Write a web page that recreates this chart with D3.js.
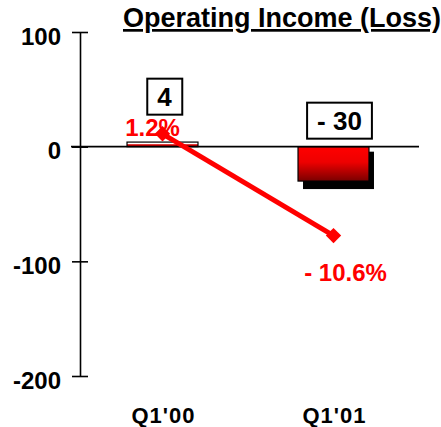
<!DOCTYPE html>
<html><head><meta charset="utf-8">
<script src="https://cdn.jsdelivr.net/npm/d3@7"></script>
<style>
html,body{margin:0;padding:0;background:#fff;}
svg{display:block;font-family:"Liberation Sans",Arial,sans-serif;font-weight:bold;}
</style></head>
<body>
<svg id="c" width="441" height="427"></svg>
<script>
const title = "Operating Income (Loss)";
const categories = ["Q1'00", "Q1'01"];
const income = [4, -30];
const incomeLabels = ["4", "- 30"];
const margin = [1.2, -10.6];
const marginLabels = ["1.2%", "- 10.6%"];
const yTicks = [100, 0, -100, -200];
const yTickLabels = ["100", "0", "-100", "-200"];

const svg = d3.select("#c");
const axisX = 80;

const x = d3.scaleBand().domain(categories).range([77, 419]).paddingInner(0.585).paddingOuter(0.2925);
const y = d3.scaleLinear().domain([-200, 100]).range([376, 32]);
const y2 = d3.scaleLinear().domain([-27, 13]).range([377, 32]);

// gradients
const defs = svg.append("defs");
const gNeg = defs.append("linearGradient").attr("id", "gNeg").attr("x1", 0).attr("y1", 0).attr("x2", 0).attr("y2", 1);
gNeg.append("stop").attr("offset", "0%").attr("stop-color", "#ff0000");
gNeg.append("stop").attr("offset", "45%").attr("stop-color", "#ee0000");
gNeg.append("stop").attr("offset", "100%").attr("stop-color", "#7a0000");
const gPos = defs.append("linearGradient").attr("id", "gPos").attr("x1", 0).attr("y1", 0).attr("x2", 0).attr("y2", 1);
gPos.append("stop").attr("offset", "0%").attr("stop-color", "#ffffff");
gPos.append("stop").attr("offset", "45%").attr("stop-color", "#ffffff");
gPos.append("stop").attr("offset", "55%").attr("stop-color", "#dd0000");
gPos.append("stop").attr("offset", "100%").attr("stop-color", "#cc0000");

// title
svg.append("text").attr("x", 123).attr("y", 27).attr("font-size", 27)
  .style("text-decoration", "underline").attr("fill", "#000").text(title);

// y axis
const yAxis = d3.axisLeft(y).tickValues(yTicks).tickSizeInner(8).tickSizeOuter(0).tickPadding(11)
  .tickFormat((d, i) => yTickLabels[i]);
const gy = svg.append("g").attr("transform", `translate(${axisX},0)`).call(yAxis);
gy.select(".domain").attr("stroke", "#000").attr("stroke-width", 1.6);
gy.selectAll(".tick line").attr("stroke", "#000").attr("stroke-width", 1.6).attr("x2", -8).attr("x1", 8);
gy.selectAll(".tick text").attr("font-size", 24).attr("font-family", "Liberation Sans, Arial, sans-serif")
  .attr("font-weight", "bold").attr("fill", "#000").attr("dy", "0.5em");

// shadows (negative bars)
const data = categories.map((c, i) => ({c, v: income[i], lab: incomeLabels[i], m: margin[i], ml: marginLabels[i]}));
svg.selectAll("rect.shadow").data(data.filter(d => d.v < 0)).join("rect")
  .attr("class", "shadow")
  .attr("x", d => x(d.c) + 5)
  .attr("y", y(0) + 5)
  .attr("width", x.bandwidth())
  .attr("height", d => y(d.v) - y(0) + 3)
  .attr("fill", "#000");

// bars
svg.selectAll("rect.bar").data(data).join("rect")
  .attr("class", "bar")
  .attr("x", d => x(d.c))
  .attr("y", d => y(Math.max(0, d.v)))
  .attr("width", x.bandwidth())
  .attr("height", d => Math.abs(y(d.v) - y(0)))
  .attr("fill", d => d.v < 0 ? "url(#gNeg)" : "url(#gPos)")
  .attr("stroke", "#000").attr("stroke-width", 1.2);

// zero line
svg.append("line").attr("x1", 71).attr("x2", 419).attr("y1", y(0)).attr("y2", y(0))
  .attr("stroke", "#000").attr("stroke-width", 1.6);

// value label boxes
const boxOffsets = [{dx: 2, dy: -50}, {dx: 6, dy: -26}];
const lg = svg.selectAll("g.lab").data(data).join("g").attr("class", "lab")
  .attr("transform", (d, i) => `translate(${x(d.c) + x.bandwidth() / 2 + boxOffsets[i].dx},${y(0) + boxOffsets[i].dy})`);
lg.append("text").attr("text-anchor", "middle").attr("font-size", 26).attr("dy", "0.36em")
  .attr("fill", "#000").text(d => d.lab);
lg.each(function() {
  const g = d3.select(this);
  const bb = g.select("text").node().getBBox();
  g.insert("rect", "text").attr("x", bb.x - 10).attr("y", -18).attr("width", bb.width + 20).attr("height", 36)
    .attr("fill", "#fff").attr("stroke", "#000").attr("stroke-width", 2);
});

// margin line
const line = d3.line().x(d => x(d.c) + x.bandwidth() / 2).y(d => y2(d.m));
svg.append("path").datum(data).attr("d", line).attr("fill", "none").attr("stroke", "#ff0000").attr("stroke-width", 5);
svg.selectAll("path.pt").data(data).join("path").attr("class", "pt")
  .attr("d", d3.symbol(d3.symbolDiamond2, 150))
  .attr("transform", d => `translate(${x(d.c) + x.bandwidth() / 2},${y2(d.m)})`)
  .attr("fill", "#ff0000");

// margin labels
const mOffsets = [{dx: -10, dy: 2}, {dx: 12, dy: 45}];
svg.selectAll("text.ml").data(data).join("text").attr("class", "ml")
  .attr("x", (d, i) => x(d.c) + x.bandwidth() / 2 + mOffsets[i].dx)
  .attr("y", (d, i) => y2(d.m) + mOffsets[i].dy)
  .attr("text-anchor", "middle").attr("font-size", 24).attr("fill", "#ff0000")
  .text(d => d.ml);

// category labels
svg.selectAll("text.cat").data(categories).join("text").attr("class", "cat")
  .attr("x", d => x(d) + x.bandwidth() / 2 + 1).attr("y", 423)
  .attr("text-anchor", "middle").attr("font-size", 22).attr("fill", "#000")
  .attr("letter-spacing", 1)
  .text(d => d);
</script>
</body></html>
